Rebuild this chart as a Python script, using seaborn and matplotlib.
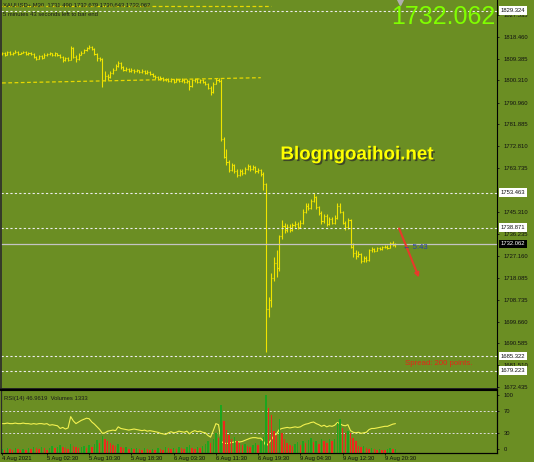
import numpy as np
import seaborn as sns
import matplotlib.pyplot as plt
import matplotlib.patheffects as pe

# XAUUSD M30 bars
closes = [
    1811.5, 1811.0, 1812.0, 1811.2, 1811.8, 1812.3, 1811.4, 1811.9, 1812.1, 1811.3,
    1811.8, 1811.2, 1810.0, 1809.3, 1810.4, 1809.6, 1810.8, 1811.2, 1811.5, 1810.9,
    1811.6, 1811.0, 1810.2, 1808.6, 1809.5, 1808.9, 1813.8, 1810.2, 1809.0, 1811.0,
    1811.8, 1812.9, 1813.6, 1814.4, 1813.5, 1811.2, 1809.6, 1809.0, 1800.5, 1802.3,
    1801.6, 1803.4, 1804.8, 1806.2, 1807.6, 1805.9, 1804.5, 1805.1, 1804.2, 1804.8,
    1804.0, 1804.5, 1803.8, 1804.3, 1803.5, 1803.9, 1802.9, 1802.2, 1801.5, 1800.8,
    1801.3, 1800.4, 1800.9, 1800.1, 1800.7, 1799.8, 1800.5, 1799.9, 1800.6, 1799.5,
    1800.2, 1797.8, 1800.3, 1800.9, 1799.7, 1800.4, 1799.6, 1798.8, 1797.2, 1795.5,
    1798.9, 1800.6, 1800.2, 1775.8, 1768.5, 1766.2, 1763.0, 1764.8, 1762.4, 1761.0,
    1762.6, 1761.8, 1763.5, 1764.6, 1763.2, 1764.1, 1762.5, 1763.0, 1761.4, 1757.0,
    1705.0, 1708.5, 1718.0, 1724.0, 1722.0, 1735.5, 1739.5, 1737.8, 1739.2, 1738.0,
    1739.8, 1740.5, 1739.0, 1741.0, 1745.5, 1748.0, 1747.2, 1750.0, 1751.8, 1747.5,
    1745.0, 1741.5, 1743.8, 1740.2, 1742.5, 1741.0, 1743.0, 1748.0, 1745.5, 1741.0,
    1739.0, 1742.0, 1731.0, 1728.5, 1727.0, 1728.0, 1725.0, 1726.2, 1725.5, 1729.5,
    1730.0, 1729.2, 1730.4, 1729.8, 1730.6, 1731.0, 1730.5, 1732.4, 1731.49, 1732.062,
]
highs = [
    1812.2, 1812.0, 1812.6, 1812.4, 1812.3, 1812.8, 1812.5, 1812.3, 1812.6, 1812.4,
    1812.3, 1812.1, 1811.6, 1810.5, 1811.0, 1810.8, 1811.5, 1811.8, 1812.0, 1811.8,
    1812.1, 1811.9, 1811.3, 1810.6, 1810.2, 1810.0, 1814.8, 1814.2, 1810.8, 1811.5,
    1812.4, 1813.5, 1814.2, 1814.9, 1814.8, 1813.8, 1811.6, 1810.2, 1809.5, 1804.0,
    1803.0, 1804.2, 1805.6, 1807.0, 1808.2, 1807.8, 1806.2, 1805.8, 1805.5, 1805.4,
    1805.1, 1805.0, 1804.8, 1804.9, 1804.6, 1804.5, 1804.2, 1803.2, 1802.6, 1801.9,
    1801.9, 1801.6, 1801.4, 1801.2, 1801.3, 1801.0, 1801.1, 1800.8, 1801.2, 1800.9,
    1800.7, 1800.4, 1800.8, 1801.4, 1801.2, 1800.9, 1800.7, 1799.9, 1799.3, 1797.8,
    1799.5, 1801.2, 1801.3, 1800.8, 1776.5, 1771.5, 1767.0, 1766.0, 1765.4, 1763.2,
    1763.4, 1763.2, 1764.3, 1765.6, 1765.0, 1764.9, 1764.6, 1763.8, 1763.5, 1762.0,
    1757.5, 1710.0, 1720.0, 1726.5, 1729.5, 1736.0, 1742.0, 1741.0, 1740.5, 1740.2,
    1741.0, 1741.8, 1741.2, 1742.0, 1746.5, 1749.0, 1749.2, 1751.0, 1753.3, 1752.0,
    1748.0, 1746.0, 1744.5, 1744.5, 1743.5, 1743.2, 1744.0, 1749.2, 1749.0, 1746.0,
    1741.8, 1743.0, 1742.5, 1732.5, 1729.5, 1729.3, 1728.5, 1727.2, 1727.0, 1730.0,
    1730.8, 1730.5, 1731.0, 1730.9, 1731.2, 1731.8, 1731.5, 1733.0, 1733.3, 1732.68,
]
lows = [
    1810.8, 1810.6, 1810.9, 1810.8, 1811.0, 1811.5, 1811.0, 1811.1, 1811.5, 1810.9,
    1811.0, 1810.8, 1809.6, 1808.8, 1809.0, 1809.1, 1809.4, 1810.5, 1810.9, 1810.4,
    1810.5, 1810.6, 1809.8, 1808.0, 1808.2, 1808.3, 1808.6, 1809.5, 1808.0, 1808.7,
    1810.7, 1811.6, 1812.6, 1813.2, 1813.0, 1810.8, 1808.4, 1808.2, 1797.5, 1800.0,
    1800.4, 1801.2, 1803.0, 1804.4, 1805.8, 1805.2, 1804.0, 1804.0, 1803.7, 1803.8,
    1803.4, 1803.6, 1803.2, 1803.3, 1803.0, 1803.1, 1802.4, 1801.8, 1801.0, 1800.3,
    1800.4, 1800.0, 1800.0, 1799.6, 1799.8, 1799.3, 1799.5, 1799.4, 1799.5, 1799.0,
    1799.2, 1796.3, 1797.5, 1799.8, 1799.2, 1799.3, 1799.1, 1798.2, 1796.6, 1794.2,
    1795.2, 1798.6, 1799.6, 1775.0, 1767.8, 1765.0, 1762.0, 1762.6, 1761.6, 1759.8,
    1760.6, 1760.8, 1761.2, 1763.0, 1762.4, 1762.8, 1761.6, 1761.8, 1760.3, 1754.5,
    1687.0, 1701.6, 1705.8, 1716.5, 1718.3, 1721.0, 1734.0, 1736.8, 1737.0, 1737.2,
    1737.5, 1739.2, 1738.3, 1738.6, 1740.6, 1745.0, 1746.3, 1746.8, 1749.5, 1746.8,
    1744.0, 1740.5, 1740.8, 1739.6, 1739.8, 1740.2, 1740.5, 1742.5, 1744.8, 1740.2,
    1737.9, 1738.5, 1730.2, 1726.6, 1726.0, 1726.5, 1724.2, 1724.5, 1724.7, 1725.0,
    1728.9, 1728.8, 1729.0, 1729.4, 1729.5, 1730.2, 1730.0, 1730.3, 1731.1, 1730.64,
]
first_open = 1811.2

rsi = [
    47, 47, 48, 47, 47, 48, 47, 47, 48, 47,
    47, 46, 47, 46, 47, 47, 46, 47, 44, 45,
    44, 43, 38, 40, 37, 39, 60, 52, 47, 50,
    53, 55, 57, 56, 50, 46, 41, 36, 29, 30,
    33, 34, 35, 34, 41, 38, 37, 36, 35, 36,
    37, 36, 35, 34, 35, 33, 34, 33, 32, 31,
    29, 28, 27, 30, 32, 30, 31, 33, 32, 31,
    33, 28, 32, 34, 32, 33, 31, 30, 25, 22,
    34, 47, 45, 14, 11, 10, 11, 12, 13, 14,
    13, 14, 16, 18, 20, 21, 21, 20, 20, 15,
    5, 11, 17, 25, 28, 36, 38, 39, 40, 39,
    40, 41, 40, 41, 44, 46, 47, 49, 50, 47,
    45, 42, 44, 41, 43, 42, 44, 49, 47, 44,
    43, 45, 34, 31, 30, 31, 29, 30, 31, 36,
    38, 38, 39, 40, 41, 42, 42, 44, 46, 46.9619,
]
volumes = [
    1200, 900, 1500, 1200, 900, 1500, 1200, 900, 1200, 900,
    1500, 1200, 1800, 1500, 1200, 1800, 1500, 900, 1500, 2100,
    1500, 1800, 2400, 1800, 1500, 1200, 2700, 2100, 1800, 1500,
    1800, 2100, 1500, 2400, 1800, 2700, 3900, 3000, 5100, 4200,
    3600, 3000, 2400, 2100, 2700, 1800, 1500, 1800, 1200, 1500,
    1200, 1500, 1200, 900, 1500, 1200, 900, 1200, 900, 1500,
    1200, 900, 1800, 1500, 1200, 1500, 1200, 1800, 1500, 1200,
    1800, 2400, 1500, 1200, 1800, 1500, 2100, 2700, 3600, 3000,
    4200, 6000, 4500, 14400, 9600, 6900, 5400, 4200, 4800, 3600,
    3000, 2400, 2700, 2100, 1800, 2400, 3000, 2400, 3600, 4800,
    17400, 13500, 11400, 6600, 5400, 10200, 6000, 4200, 3000, 2400,
    2100, 2700, 3300, 2400, 3600, 3000, 3900, 4500, 3300, 3600,
    2700, 4200, 3600, 3000, 4200, 3600, 4200, 9000, 10200, 7500,
    6000, 6600, 6000, 4500, 3600, 2100, 1800, 2100, 1500, 1200,
    1500, 1200, 900, 1200, 900, 900, 1200, 1500, 1200, 1333,
]

time_ticks = [0, 17, 33, 49, 65, 81, 97, 113, 129, 145]
time_labels = ['4 Aug 2021', '5 Aug 02:30', '5 Aug 10:30', '5 Aug 18:30', '6 Aug 03:30',
               '6 Aug 11:30', '6 Aug 19:30', '9 Aug 04:30', '9 Aug 12:30', '9 Aug 20:30']
price_ticks = [1827.535, 1818.460, 1809.385, 1800.310, 1790.960, 1781.885, 1772.810,
               1763.735, 1745.310, 1736.235, 1727.160, 1718.085, 1708.735, 1699.660,
               1690.585, 1681.510, 1672.435]
level_lines = [1829.324, 1753.463, 1738.871, 1685.322, 1679.223]
bid = 1732.062
trend_x = [0, 98]
trend_y = [1799.2, 1801.4]
top_line_x = [0, 102]
top_line_y = [1831.3, 1831.3]
arrow_from = (150.0, 1739.6)
arrow_to = (158.3, 1717.0)

bg = '#6b8e23'
bar_col = '#f0e400'

sns.set_theme(style='white', rc={'axes.facecolor': bg, 'figure.facecolor': bg})
plt.rcParams['font.family'] = ['Liberation Sans', 'DejaVu Sans']

n = len(closes)
x = np.arange(n)
opens = [first_open] + closes[:-1]

W, H = 534, 462
fig = plt.figure(figsize=(W / 100, H / 100), dpi=100)
ax = fig.add_axes([1 / W, 1 - 389 / H, 496 / W, 389 / H])
ax_rsi = fig.add_axes([1 / W, 1 - 453 / H, 496 / W, 63 / H])

x_lo = -0.4
x_hi = x_lo + 496 / 2.64
slope = 0.41694
p_top = 1833.79
ax.set_xlim(x_lo, x_hi)
ax.set_ylim(p_top - 389 * slope, p_top)

# price bars
ax.vlines(x, lows, highs, color=bar_col, lw=0.8)
ax.hlines(opens, x - 0.4, x, color=bar_col, lw=0.8)
ax.hlines(closes, x, x + 0.4, color=bar_col, lw=0.8)

# lines
for lv in level_lines:
    ax.axhline(lv, color='#ececec', lw=0.8, dashes=(2, 2))
ax.axhline(bid, color='#c4c4c4', lw=0.9)
ax.plot(trend_x, trend_y, color='#e8d800', lw=0.9, dashes=(3, 2))
ax.plot(top_line_x, top_line_y, color='#e8d800', lw=0.9, dashes=(3, 2))

# right price scale
ax.yaxis.tick_right()
ax.set_yticks(price_ticks)
ax.set_yticklabels([f'{p:.3f}' for p in price_ticks])
ax.tick_params(axis='y', right=True, length=1.5, width=0.6, pad=3,
               labelsize=4.2, colors='#111111')
ax.set_xticks([])
ytr = ax.get_yaxis_transform()
for lv in level_lines:
    ax.text(1.007, lv, f'{lv:.3f}', transform=ytr, fontsize=4.2, va='center', ha='left',
            color='#111111', bbox=dict(boxstyle='square,pad=0.3', fc='white', ec='none'),
            clip_on=False)
ax.text(1.007, bid, f'{bid:.3f}', transform=ytr, fontsize=4.2, va='center', ha='left',
        color='white', bbox=dict(boxstyle='square,pad=0.3', fc='black', ec='none'),
        clip_on=False)

for s in ['top']:
    ax.spines[s].set_visible(False)
ax.spines['left'].set_color('#2b2b2b')
ax.spines['left'].set_linewidth(1.2)
ax.spines['right'].set_color('black')
ax.spines['right'].set_linewidth(0.8)
ax.spines['bottom'].set_color('#222222')
ax.spines['bottom'].set_linewidth(1.4)

# annotations
ax.annotate('', xy=arrow_to, xytext=arrow_from,
            arrowprops=dict(arrowstyle='-|>', color='#e8392b', lw=1.5, mutation_scale=6))
ax.text(151.9, 1730.4, '\u2190 5:43', fontsize=5.5, color='#2a3fb0', va='center', ha='left')
ax.text(152.6, 1682.4, 'Spread: 200 points.', fontsize=5.6, color='#e82418',
        va='center', ha='left')
ax.text(134.4, 1769.2, 'Blogngoaihoi.net', fontsize=13.5, fontweight='bold',
        color='#ffff00', ha='center', va='center',
        path_effects=[pe.SimplePatchShadow(offset=(1.2, -1.2), shadow_rgbFace='#2a2a2a',
                                           alpha=0.7), pe.Normal()])
ax.plot([150.6], [1832.8], marker='v', ms=4, color='#b0b0b0', clip_on=False)

fig.text(3 / W, 1 - 5 / H, 'XAUUSD+,M30  1731.490 1732.679 1730.643 1732.062',
         fontsize=4.2, color='#1a1a1a', va='center', ha='left')
fig.text(3 / W, 1 - 15 / H, '5 minutes 43 seconds left to bar end',
         fontsize=4.2, color='#1a1a1a', va='center', ha='left')
fig.text(495 / W, 1 - 17 / H, '1732.062', fontsize=18, color='#80ff00',
         va='center', ha='right')

# RSI + volumes pane
ax_rsi.set_xlim(x_lo, x_hi)
ax_rsi.set_ylim((449 - 453) / 0.54, (449 - 390) / 0.54)
ax_vol = ax_rsi.twinx()
ax_vol.set_ylim(0, 63 * 300)
vol_cols = ['#1ea51e' if i == 0 or volumes[i] > volumes[i - 1] else '#ec2a1c'
            for i in range(n)]
ax_vol.bar(x, volumes, width=0.55, color=vol_cols, linewidth=0)
ax_vol.set_yticks([])

for lv in [70, 30]:
    ax_rsi.axhline(lv, color='#dcdcdc', lw=0.7, dashes=(2, 2))
sns.lineplot(x=x, y=rsi, ax=ax_rsi, color='#f4f250', lw=0.8)

ax_rsi.yaxis.tick_right()
ax_rsi.set_yticks([100, 70, 30, 0])
ax_rsi.set_yticklabels(['100', '70', '30', '0'])
ax_rsi.tick_params(axis='y', right=True, length=1.5, width=0.6, pad=3,
                   labelsize=4.2, colors='#111111')
ax_rsi.set_xticks(time_ticks)
ax_rsi.set_xticklabels(time_labels)
ax_rsi.tick_params(axis='x', bottom=True, length=1.5, width=0.6, pad=1,
                   labelsize=4.2, colors='#111111')
for lbl in ax_rsi.get_xticklabels():
    lbl.set_ha('left')
ax_rsi.set_xlabel('')
ax_rsi.set_ylabel('')
ax_rsi.text(0.006, 0.86, 'RSI(14) 46.9619  Volumes 1333', transform=ax_rsi.transAxes,
            fontsize=4.2, color='#1a1a1a', va='center', ha='left')
for a in [ax_rsi, ax_vol]:
    for s in a.spines.values():
        s.set_color('black')
        s.set_linewidth(0.8)
ax_rsi.spines['top'].set_linewidth(1.4)
ax_rsi.spines['left'].set_color('#2b2b2b')
ax_vol.spines['left'].set_color('#2b2b2b')

fig.savefig('out.png', dpi=100, facecolor=bg)
